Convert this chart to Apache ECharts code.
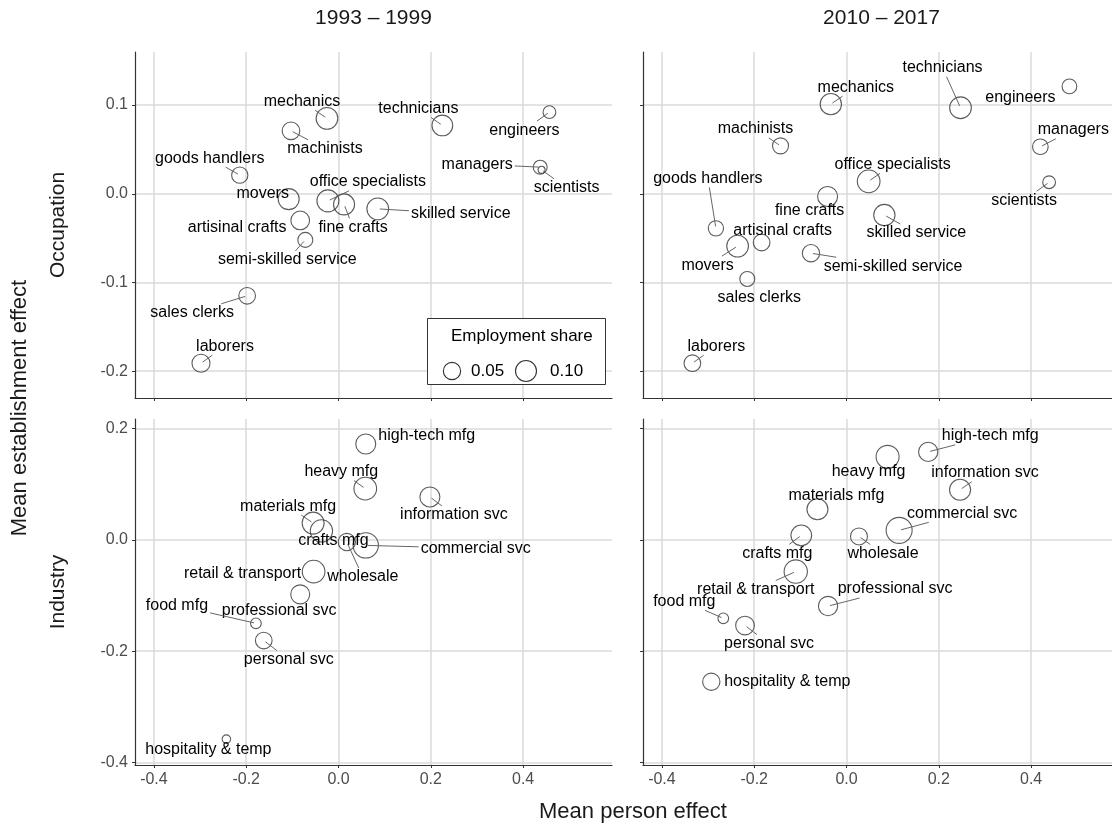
<!DOCTYPE html>
<html>
<head>
<meta charset="utf-8">
<script src="https://cdn.jsdelivr.net/npm/echarts@6/dist/echarts.min.js"></script>
<style>html,body{margin:0;padding:0;background:#fff}#c{width:1112px;height:826px}</style>
</head>
<body>
<div id="c"></div>
<script>
// ---------------- DATA ----------------
const periods = ["1993 – 1999", "2010 – 2017"];
const occupations = ["mechanics","technicians","engineers","machinists","goods handlers","managers","scientists","movers","office specialists","fine crafts","skilled service","artisinal crafts","semi-skilled service","sales clerks","laborers"];
const occPerson_1993 = [-0.025, 0.225, 0.457, -0.103, -0.214, 0.437, 0.440, -0.108, -0.023, 0.012, 0.085, -0.083, -0.072, -0.198, -0.298];
const occEstab_1993  = [0.085, 0.077, 0.092, 0.071, 0.021, 0.030, 0.027, -0.006, -0.008, -0.012, -0.017, -0.030, -0.052, -0.115, -0.191];
const occShare_1993  = [0.113, 0.095, 0.017, 0.054, 0.040, 0.023, 0.002, 0.100, 0.118, 0.100, 0.113, 0.066, 0.030, 0.044, 0.058];
const occPerson_2010 = [-0.034, 0.247, 0.483, -0.143, -0.283, 0.420, 0.439, -0.236, 0.048, -0.041, 0.082, -0.184, -0.077, -0.215, -0.334];
const occEstab_2010  = [0.101, 0.097, 0.121, 0.054, -0.039, 0.053, 0.013, -0.059, 0.014, -0.003, -0.024, -0.055, -0.067, -0.096, -0.191];
const occShare_2010  = [0.105, 0.113, 0.028, 0.038, 0.032, 0.035, 0.017, 0.113, 0.132, 0.084, 0.105, 0.044, 0.050, 0.030, 0.044];

const industries = ["high-tech mfg","heavy mfg","information svc","materials mfg","crafts mfg","wholesale","commercial svc","retail & transport","professional svc","food mfg","personal svc","hospitality & temp"];
const indPerson_1993 = [0.059, 0.058, 0.198, -0.055, -0.037, 0.018, 0.059, -0.054, -0.083, -0.179, -0.162, -0.243];
const indEstab_1993  = [0.172, 0.092, 0.077, 0.030, 0.016, -0.004, -0.010, -0.057, -0.098, -0.150, -0.181, -0.358];
const indShare_1993  = [0.084, 0.132, 0.084, 0.118, 0.124, 0.050, 0.195, 0.132, 0.070, 0.009, 0.044, 0.004];
const indPerson_2010 = [0.177, 0.089, 0.246, -0.063, -0.098, 0.027, 0.114, -0.110, -0.040, -0.267, -0.220, -0.293];
const indEstab_2010  = [0.158, 0.149, 0.090, 0.055, 0.008, 0.006, 0.017, -0.057, -0.119, -0.141, -0.154, -0.255];
const indShare_2010  = [0.074, 0.139, 0.100, 0.100, 0.095, 0.047, 0.215, 0.145, 0.074, 0.009, 0.066, 0.050];

const legendBreaks = [0.05, 0.10];
const xTicks = [-0.4, -0.2, 0.0, 0.2, 0.4];
const yTicksOcc = [-0.2, -0.1, 0.0, 0.1];
const yTicksInd = [-0.4, -0.2, 0.0, 0.2];

// ---------------- LAYOUT (label offsets in px, segment flags) ----------------
const occLabelOffset_1993 = [[-25,-17],[-24,-17],[-25,18],[34,18],[-30,-17],[-63,-3],[25,18],[-26,-6],[40,-19],[9,23],[83,5],[-63,7],[-18,20],[-55,17],[24,-17]];
const occSegment_1993 = [1,1,1,1,1,1,1,0,1,1,1,0,1,1,1];
const occLabelOffset_2010 = [[25,-17],[-18,-40],[-49,11],[-25,-17],[-8,-50],[33,-17],[-25,18],[-30,19],[24,-17],[-18,14],[32,18],[21,-12],[82,13],[12,19],[24,-17]];
const occSegment_2010 = [1,1,0,1,1,1,1,1,1,0,1,0,1,0,1];
const indLabelOffset_1993 = [[61,-8],[-24,-17],[24,18],[-25,-17],[12,10],[16,35],[110,3],[-71,2],[-21,16],[-79,-18],[25,19],[-18,10]];
const indSegment_1993 = [0,1,1,1,0,1,1,0,0,1,1,0];
const indLabelOffset_2010 = [[62,-16],[-19,15],[25,-17],[19,-14],[-24,18],[24,17],[63,-17],[-40,18],[67,-17],[-39,-17],[24,18],[76,0]];
const indSegment_2010 = [1,0,1,0,1,1,1,1,1,1,1,0];

const FONT = '"Liberation Sans", Arial, Helvetica, sans-serif';
const sizeFn = s => 40 * Math.pow(s, 0.28);

const panels = [
  {names: occupations, xs: occPerson_1993, ys: occEstab_1993, sh: occShare_1993, off: occLabelOffset_1993, seg: occSegment_1993},
  {names: occupations, xs: occPerson_2010, ys: occEstab_2010, sh: occShare_2010, off: occLabelOffset_2010, seg: occSegment_2010},
  {names: industries, xs: indPerson_1993, ys: indEstab_1993, sh: indShare_1993, off: indLabelOffset_1993, seg: indSegment_1993},
  {names: industries, xs: indPerson_2010, ys: indEstab_2010, sh: indShare_2010, off: indLabelOffset_2010, seg: indSegment_2010}
];

const cv = document.createElement('canvas').getContext('2d');
cv.font = '16px ' + FONT;
const measure = t => cv.measureText(t).width;

const gridPos = [[135,52],[643,52],[135,419],[643,419]];
const grids = gridPos.map(p => ({left:p[0], top:p[1], width:477, height:346, outerBoundsMode:'none', containLabel:false}));

const fmt = v => (Math.abs(v) < 1e-9 ? '0.0' : Number(v).toFixed(1));
const xAxes = gridPos.map((p,i) => ({
  gridIndex:i, type:'value', min:-0.441, max:0.5926, splitNumber:5,
  axisLine:{show:true, onZero:false, lineStyle:{color:'#333', width:1.2}},
  axisTick:{show:true, length:3, customValues:xTicks, lineStyle:{color:'#333', width:1}},
  axisLabel:{show: i>=2, customValues:xTicks, color:'#4d4d4d', fontSize:16, fontFamily:FONT, margin:7, formatter: fmt},
  splitLine:{show:true, lineStyle:{color:'#dadada', width:1.5}}
}));
const yAxes = gridPos.map((p,i) => {
  const top = i < 2;
  const ticks = top ? yTicksOcc : yTicksInd;
  return {
    gridIndex:i, type:'value',
    min: top ? -0.2302 : -0.4045, max: top ? 0.1598 : 0.2170, splitNumber: top ? 5 : 3,
    axisLine:{show:true, onZero:false, lineStyle:{color:'#333', width:1.2}},
    axisTick:{show:true, length:3, customValues:ticks, lineStyle:{color:'#333', width:1}},
    axisLabel:{show: i%2===0, customValues:ticks, color:'#4d4d4d', fontSize:16, fontFamily:FONT, margin:7, formatter: fmt},
    splitLine:{show:true, lineStyle:{color:'#dadada', width:1.5}}
  };
});

const series = [];
panels.forEach((pn, i) => {
  const pts = pn.xs.map((x,k) => [x, pn.ys[k], pn.sh[k]]);
  series.push({
    type:'scatter', xAxisIndex:i, yAxisIndex:i, data: pts, symbol:'circle',
    symbolSize: v => sizeFn(v[2]),
    itemStyle:{color:'rgba(0,0,0,0)', borderColor:'#333', borderWidth:1.1},
    silent:true, z:2, animation:false
  });
  series.push({
    type:'custom', xAxisIndex:i, yAxisIndex:i, data: pts, silent:true, z:3, animation:false, clip:false,
    renderItem: (params, api) => {
      const k = params.dataIndex;
      const P = api.coord([api.value(0), api.value(1)]);
      const o = pn.off[k];
      const C = [P[0] + o[0], P[1] + o[1]];
      const name = pn.names[k];
      const children = [];
      if (pn.seg[k]) {
        const w = measure(name);
        const hw = w/2 + 2, hh = 9;
        const dx = P[0] - C[0], dy = P[1] - C[1];
        const t = Math.min(dx !== 0 ? hw/Math.abs(dx) : Infinity, dy !== 0 ? hh/Math.abs(dy) : Infinity);
        if (t < 1) {
          const E = [C[0] + dx*t, C[1] + dy*t];
          const len = Math.hypot(dx, dy);
          const S = [P[0] - dx/len*2, P[1] - dy/len*2];
          children.push({type:'line', shape:{x1:S[0], y1:S[1], x2:E[0], y2:E[1]}, style:{stroke:'#666', lineWidth:1}});
        }
      }
      children.push({type:'text', x:C[0], y:C[1], style:{text:name, fill:'#000', font:'16px ' + FONT, align:'center', verticalAlign:'middle'}});
      return {type:'group', children};
    }
  });
});

const titleStyle = (t, size) => ({text:t, fill:'#1a1a1a', font: size + 'px ' + FONT, align:'center', verticalAlign:'middle'});
const graphics = [
  {type:'text', x:373.5, y:18, style:titleStyle(periods[0], 21)},
  {type:'text', x:881.5, y:18, style:titleStyle(periods[1], 21)},
  {type:'text', x:58, y:225, rotation:Math.PI/2, style:titleStyle('Occupation', 21)},
  {type:'text', x:58, y:592, rotation:Math.PI/2, style:titleStyle('Industry', 21)},
  {type:'text', x:20, y:408, rotation:Math.PI/2, style:titleStyle('Mean establishment effect', 22)},
  {type:'text', x:633, y:812, style:titleStyle('Mean person effect', 22)},
  // legend
  {type:'rect', shape:{x:427.5, y:318.5, width:178, height:66}, style:{fill:'#fff', stroke:'#333', lineWidth:1}, z:10},
  {type:'text', x:451, y:336, z:11, style:{text:'Employment share', fill:'#000', font:'17px ' + FONT, align:'left', verticalAlign:'middle'}},
  {type:'circle', shape:{cx:452, cy:371, r:sizeFn(legendBreaks[0])/2}, style:{fill:'none', stroke:'#333', lineWidth:1.1}, z:11},
  {type:'text', x:471, y:371, z:11, style:{text:legendBreaks[0].toFixed(2), fill:'#000', font:'17px ' + FONT, align:'left', verticalAlign:'middle'}},
  {type:'circle', shape:{cx:526, cy:371, r:sizeFn(legendBreaks[1])/2}, style:{fill:'none', stroke:'#333', lineWidth:1.1}, z:11},
  {type:'text', x:550, y:371, z:11, style:{text:legendBreaks[1].toFixed(2), fill:'#000', font:'17px ' + FONT, align:'left', verticalAlign:'middle'}}
];

const chart = echarts.init(document.getElementById('c'), null, {renderer:'canvas'});
chart.setOption({
  animation:false,
  backgroundColor:'#fff',
  grid: grids,
  xAxis: xAxes,
  yAxis: yAxes,
  series: series,
  graphic: graphics
});
</script>
</body>
</html>
